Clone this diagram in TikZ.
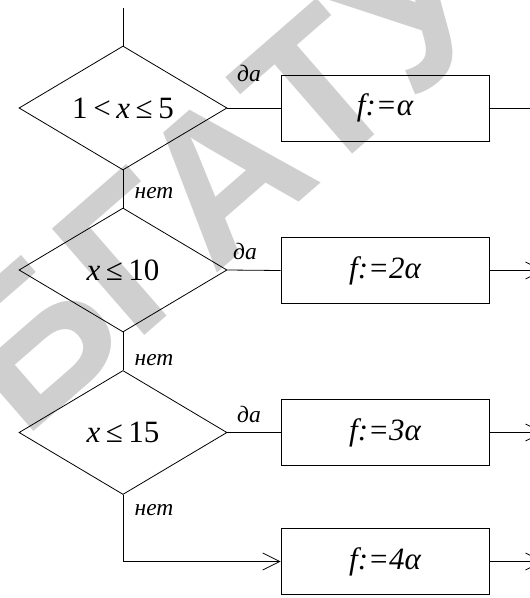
\documentclass[tikz,border=0pt]{standalone}
\usepackage{fontspec}
\setmainfont{Liberation Serif}
\newfontfamily\wmfont{Liberation Sans}
\usetikzlibrary{shapes.geometric,arrows.meta}
\newcommand{\gp}{\hspace{0.18em}}
\begin{document}
\begin{tikzpicture}[x=1pt,y=-1pt,
  dec/.style={diamond, draw, line width=0.8pt, minimum width=208pt, minimum height=124pt, inner sep=0pt, shape aspect=1.68, font=\fontsize{31}{33}\selectfont},
  act/.style={rectangle, draw, line width=0.8pt, minimum width=208pt, minimum height=66pt, inner sep=0pt, font=\fontsize{31}{33}\selectfont\itshape},
  lbl/.style={font=\fontsize{23.5}{25}\selectfont\itshape, inner sep=0pt, anchor=base},
  flow/.style={line width=0.8pt},
  arr/.style={flow, -{Straight Barb[length=17pt,width=17pt]}},
  wm/.style={font=\wmfont\bfseries\fontsize{205}{205}\selectfont, text=black!19, inner sep=0pt}]
\useasboundingbox (0,0) rectangle (530,598);
\clip (0,0) rectangle (530,598);
% watermark
\node[wm, rotate=41] (wmark) at (220,178) {БГАТУ};
% decisions
\node[dec] (d1) at (123,108) {1\gp<\gp\textit{x}\gp≤\gp5};
\node[dec] (d2) at (123,270) {\textit{x}\gp≤\gp10};
\node[dec] (d3) at (123,432.5) {\textit{x}\gp≤\gp15};
% actions
\node[act] (b1) at (385,108) {f:=α};
\node[act] (b2) at (385,270.5) {f:=2α};
\node[act] (b3) at (385,432.5) {f:=3α};
\node[act] (b4) at (385,561.5) {f:=4α};
% labels
\node[lbl] (da1) at (249,81) {да};
\node[lbl] (da2) at (245,259) {да};
\node[lbl] (da3) at (249,422) {да};
\node[lbl] (net1) at (154,198) {нет};
\node[lbl] (net2) at (154,365) {нет};
\node[lbl] (net3) at (154,515) {нет};
% connectors
\coordinate (start) at (123,8);
\coordinate (o1) at ([xshift=76pt]b1.east);
\coordinate (o2) at ([xshift=54pt]b2.east);
\coordinate (o3) at ([xshift=54pt]b3.east);
\coordinate (o4) at ([xshift=54pt]b4.east);
\draw[flow] (start) -- (d1.north);
\draw[flow] (d1.south) -- (d2.north);
\draw[flow] (d2.south) -- (d3.north);
\draw[flow] (d1.east) -- (b1.west);
\draw[flow] (d2.east) -- (b2.west);
\draw[flow] (d3.east) -- (b3.west);
\draw[arr] (d3.south) |- (b4.west);
\draw[arr] (b1.east) -- (o1);
\draw[arr] (b2.east) -- (o2);
\draw[arr] (b3.east) -- (o3);
\draw[arr] (b4.east) -- (o4);
\end{tikzpicture}
\end{document}
